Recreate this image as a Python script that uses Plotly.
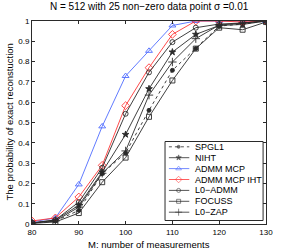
import plotly.graph_objects as go

# ---- data ----
M = [80, 85, 90, 95, 100, 105, 110, 115, 120, 125, 130]
spgl1 = [0.005, 0.015, 0.067, 0.248, 0.35, 0.56, 0.757, 0.864, 0.975, 0.985, 1.0]
niht = [0.005, 0.02, 0.092, 0.256, 0.441, 0.666, 0.847, 0.934, 0.978, 0.983, 1.0]
admm_mcp = [0.01, 0.03, 0.195, 0.481, 0.729, 0.853, 0.978, 1.0, 1.0, 1.0, 1.0]
admm_mcp_iht = [0.015, 0.03, 0.133, 0.289, 0.583, 0.77, 0.934, 1.0, 1.0, 0.995, 1.0]
l0_admm = [0.005, 0.02, 0.108, 0.277, 0.543, 0.747, 0.896, 0.967, 0.985, 0.99, 1.0]
focuss = [0.003, 0.01, 0.054, 0.206, 0.327, 0.528, 0.707, 0.864, 0.967, 0.957, 0.995]
l0_zap = [0.005, 0.015, 0.083, 0.25, 0.36, 0.635, 0.798, 0.913, 0.98, 0.99, 1.0]

names = ["SPGL1", "NIHT", "ADMM MCP", "ADMM MCP IHT", "L0\u2212ADMM", "FOCUSS", "L0\u2212ZAP"]
series = [spgl1, niht, admm_mcp, admm_mcp_iht, l0_admm, focuss, l0_zap]

x_ticks = [80, 90, 100, 110, 120, 130]
y_ticks = [0, 0.1, 0.2, 0.3, 0.4, 0.5, 0.6, 0.7, 0.8, 0.9, 1]
y_tick_text = ["0", "0.1", "0.2", "0.3", "0.4", "0.5", "0.6", "0.7", "0.8", "0.9", "1"]

# ---- styles ----
BLK = "#2a2a2a"
styles = [
    dict(color=BLK, dash="dot", symbol="circle", size=4),
    dict(color=BLK, dash="solid", symbol="star", size=5),
    dict(color="#4f6cff", dash="solid", symbol="triangle-up-open", size=6),
    dict(color="#ff3535", dash="solid", symbol="diamond-open", size=6),
    dict(color=BLK, dash="solid", symbol="circle-open", size=5),
    dict(color=BLK, dash="solid", symbol="square-open", size=5),
    dict(color=BLK, dash="solid", symbol="cross-thin-open", size=6),
]

FONT = "Liberation Sans, Arial, sans-serif"
W, H = 284, 250
L, R, T, B = 32, 11, 21, 26

fig = go.Figure()
for name, ys, st in zip(names, series, styles):
    fig.add_trace(go.Scatter(
        x=M, y=ys, mode="lines+markers", name=name, showlegend=False,
        line=dict(color=st["color"], width=0.9, dash=st["dash"]),
        marker=dict(symbol=st["symbol"], size=st["size"], color=st["color"],
                    line=dict(color=st["color"], width=0.9)),
    ))

# ---- compact MATLAB-style legend on a pixel-coordinate overlay axis ----
lg_x0, lg_x1, lg_y0, lg_y1 = 169, 270, 141.5, 220.5
row0, step = 146.8, 10.9
shapes = [dict(type="rect", xref="x2", yref="y2", x0=lg_x0, x1=lg_x1, y0=lg_y0, y1=lg_y1,
               line=dict(color=BLK, width=1), fillcolor="white", layer="below")]
annotations = []
for i, (name, st) in enumerate(zip(names, styles)):
    yy = row0 + i * step
    fig.add_trace(go.Scatter(
        x=[173, 183, 194], y=[yy, yy, yy], xaxis="x2", yaxis="y2", mode="lines+markers",
        showlegend=False, hoverinfo="skip",
        line=dict(color=st["color"], width=0.8, dash=st["dash"]),
        marker=dict(symbol=st["symbol"], size=[0, st["size"] - 1, 0], color=st["color"],
                    line=dict(color=st["color"], width=0.8)),
    ))
    annotations.append(dict(x=198, y=yy, xref="x2", yref="y2", text=name, showarrow=False,
                            xanchor="left", yanchor="middle",
                            font=dict(family=FONT, size=9, color="black")))

annotations += [
    dict(text="N = 512 with 25 non\u2212zero data point \u03c3 =0.01", x=0.5, y=1, xref="paper",
         yref="paper", yshift=15, showarrow=False, xanchor="center", yanchor="middle",
         font=dict(family=FONT, size=10, color="black")),
    dict(text="M: number of measurements", x=0.5, y=0, xref="paper", yref="paper",
         yshift=-20, showarrow=False, xanchor="center", yanchor="middle",
         font=dict(family=FONT, size=9.5, color="black")),
    dict(text="The probability of exact reconstuction", x=0, y=0.5, xref="paper",
         yref="paper", xshift=-23, showarrow=False, textangle=-90, xanchor="center",
         yanchor="middle", font=dict(family=FONT, size=9.5, color="black")),
]

axis_common = dict(showgrid=False, zeroline=False, showline=True, linecolor=BLK, linewidth=1,
                   mirror="ticks", ticks="inside", ticklen=3, tickwidth=0.8, tickcolor=BLK,
                   tickfont=dict(family=FONT, size=8, color="black"))

fig.update_layout(
    width=W, height=H, margin=dict(l=L, r=R, t=T, b=B, pad=0),
    paper_bgcolor="white", plot_bgcolor="white",
    xaxis=dict(range=[80, 130], tickvals=x_ticks, ticktext=[str(v) for v in x_ticks], **axis_common),
    yaxis=dict(range=[0, 1], tickvals=y_ticks, ticktext=y_tick_text, **axis_common),
    xaxis2=dict(range=[L, W - R], overlaying="x", visible=False, fixedrange=True),
    yaxis2=dict(range=[H - B, T], overlaying="y", visible=False, fixedrange=True),
    shapes=shapes, annotations=annotations, showlegend=False,
)

fig.write_html("out.html", config={"displayModeBar": False},
               post_script="document.body.style.margin='0';document.body.style.overflow='hidden';")
